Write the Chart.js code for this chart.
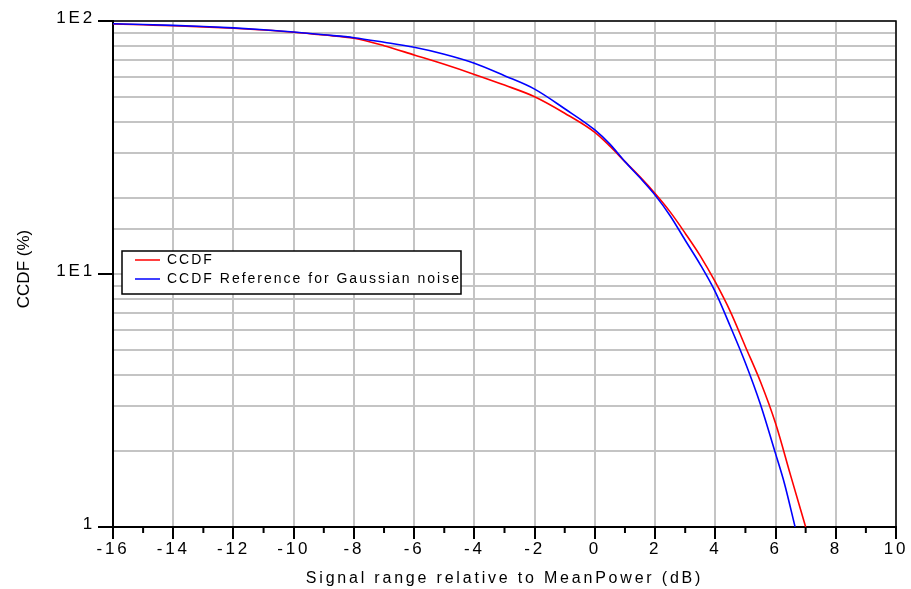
<!DOCTYPE html>
<html>
<head>
    <meta charset="utf-8">
    <title>CCDF</title>
    <script src="https://cdn.jsdelivr.net/npm/chart.js"></script>
    <style>
        body {
            margin: 0;
            background: #ffffff;
        }

        #wrap {
            width: 911px;
            height: 589px;
        }
    </style>
</head>
<body>
    <div id="wrap"><canvas id="ccdfChart" width="911" height="589"></canvas></div>

    <script>
        // Measured CCDF (red)
        const redX = [-16, -15, -14, -13, -12, -11, -10, -9, -8, -7, -6, -5, -4, -3, -2, -1, 0, 0.5, 1, 1.5, 2, 2.5, 3, 3.5, 4, 4.5, 5, 5.5, 6, 6.5, 7.0];
        const redY = [97.4, 96.6, 95.8, 94.8, 93.6, 92.1, 90.3, 88.0, 85.5, 79.9, 73.4, 67.4, 61.5, 55.8, 50.2, 43.2, 36.3, 32.0, 27.8, 24.2, 20.8, 17.6, 14.5, 11.8, 9.3, 7.1, 5.16, 3.75, 2.57, 1.6, 1.0];

        // Gaussian noise reference (blue)
        const blueX = [-16, -15, -14, -13, -12, -11, -10, -9, -8, -7, -6, -5, -4, -3, -2, -1, 0, 0.5, 1, 1.5, 2, 2.5, 3, 3.5, 4, 4.5, 5, 5.5, 6, 6.3, 6.65];
        const blueY = [97.5, 96.9, 96.1, 95.1, 93.9, 92.4, 90.5, 88.2, 85.9, 82.4, 78.7, 73.9, 68.1, 60.8, 53.8, 45.0, 37.1, 32.6, 27.8, 24.0, 20.5, 17.0, 13.6, 10.9, 8.5, 6.2, 4.45, 3.05, 1.95, 1.48, 1.0];

        const seriesNames = ['CCDF', 'CCDF Reference for Gaussian noise'];
        const seriesColors = ['#ff0000', '#0000ff'];

        // y tick labels only at the decades
        const yLabelValues = [1, 10, 100];
        const yLabelTexts = ['1', '1E1', '1E2'];

        const yTitle = 'CCDF (%)';

        const FONT = 'Liberation Sans, Arial, sans-serif';
        const GRID = '#c4c4c4';

        const spacingPlugin = {
            id: 'spacing',
            beforeLayout(chart) { chart.ctx.letterSpacing = '2.8px'; },
            beforeDraw(chart) { chart.ctx.letterSpacing = '2.8px'; }
        };

        const framePlugin = {
            id: 'frame',
            afterDraw(chart) {
                const ctx = chart.ctx;
                const a = chart.chartArea;
                const xs = chart.scales.x;
                ctx.save();

                // minor ticks on the x axis
                ctx.strokeStyle = '#000';
                ctx.lineWidth = 2;
                xs.ticks.forEach(t => {
                    if (t.value % 2 !== 0) {
                        const px = xs.getPixelForValue(t.value);
                        ctx.beginPath();
                        ctx.moveTo(px, a.bottom);
                        ctx.lineTo(px, a.bottom + 6);
                        ctx.stroke();
                    }
                });

                // top and right edges of the frame
                ctx.lineWidth = 1.5;
                ctx.beginPath();
                ctx.moveTo(a.left, a.top);
                ctx.lineTo(a.right, a.top);
                ctx.lineTo(a.right, a.bottom);
                ctx.stroke();

                // y axis title, tighter than the rest
                ctx.save();
                ctx.letterSpacing = '0px';
                ctx.font = '17px ' + FONT;
                ctx.fillStyle = '#000';
                ctx.textAlign = 'center';
                ctx.textBaseline = 'middle';
                ctx.translate(24, (a.top + a.bottom) / 2 - 5);
                ctx.rotate(-Math.PI / 2);
                ctx.fillText(yTitle, 0, 0);
                ctx.restore();

                // legend box inside the plot
                const bx = a.left + 9, by = a.top + 230, bw = 339, bh = 43;
                ctx.fillStyle = '#ffffff';
                ctx.fillRect(bx, by, bw, bh);
                ctx.strokeStyle = '#000';
                ctx.lineWidth = 1.5;
                ctx.strokeRect(bx, by, bw, bh);

                ctx.letterSpacing = '2px';
                ctx.font = '14px ' + FONT;
                ctx.textBaseline = 'middle';
                ctx.textAlign = 'left';
                chart.data.datasets.forEach((ds, i) => {
                    const ly = by + 9 + i * 19;
                    ctx.strokeStyle = ds.borderColor;
                    ctx.lineWidth = 1.5;
                    ctx.beginPath();
                    ctx.moveTo(bx + 13, ly);
                    ctx.lineTo(bx + 38, ly);
                    ctx.stroke();
                    ctx.fillStyle = '#000';
                    ctx.fillText(ds.label, bx + 45, ly);
                });

                ctx.restore();
            }
        };

        const ctx = document.getElementById('ccdfChart').getContext('2d');
        const chart = new Chart(ctx, {
            type: 'line',
            data: {
                datasets: [{
                    label: seriesNames[0],
                    borderColor: seriesColors[0],
                    data: redX.map((x, i) => ({ x: x, y: redY[i] })),
                    order: 1
                }, {
                    label: seriesNames[1],
                    borderColor: seriesColors[1],
                    data: blueX.map((x, i) => ({ x: x, y: blueY[i] })),
                    order: 0
                }]
            },
            options: {
                responsive: false,
                animation: false,
                layout: { padding: { top: 21, right: 15, left: 0, bottom: 0 } },
                elements: {
                    point: { radius: 0 },
                    line: { borderWidth: 1.6, cubicInterpolationMode: 'monotone', fill: false }
                },
                plugins: {
                    legend: { display: false },
                    tooltip: { enabled: false }
                },
                scales: {
                    x: {
                        type: 'linear',
                        min: -16,
                        max: 10,
                        ticks: {
                            stepSize: 1,
                            autoSkip: false,
                            maxRotation: 0,
                            padding: 0,
                            color: '#000',
                            font: { family: FONT, size: 17 },
                            callback: v => (v % 2 === 0 ? String(v) : '')
                        },
                        grid: {
                            color: c => (c.tick && c.tick.value % 2 === 0 ? GRID : 'rgba(0,0,0,0)'),
                            lineWidth: 2,
                            tickColor: c => (c.tick && c.tick.value % 2 === 0 ? '#000' : 'rgba(0,0,0,0)'),
                            tickLength: 12,
                            tickWidth: 2
                        },
                        border: { color: '#000', width: 2 },
                        title: {
                            display: true,
                            text: 'Signal range relative to MeanPower (dB)',
                            color: '#000',
                            font: { family: FONT, size: 16 },
                            padding: { top: 0, bottom: 1 }
                        },
                        afterFit: s => { s.height = 62; }
                    },
                    y: {
                        type: 'logarithmic',
                        min: 1,
                        max: 100,
                        ticks: {
                            autoSkip: false,
                            padding: 3,
                            labelOffset: -3,
                            color: '#000',
                            font: { family: FONT, size: 17 },
                            callback: v => {
                                const k = yLabelValues.indexOf(v);
                                return k >= 0 ? yLabelTexts[k] : '';
                            }
                        },
                        grid: {
                            color: GRID,
                            lineWidth: 2,
                            tickColor: c => (c.tick && yLabelValues.includes(c.tick.value) ? '#000' : 'rgba(0,0,0,0)'),
                            tickLength: 15,
                            tickWidth: 2
                        },
                        border: { color: '#000', width: 2 },
                        title: { display: false },
                        afterFit: s => { s.width = 113; }
                    }
                }
            },
            plugins: [spacingPlugin, framePlugin]
        });
    </script>
</body>
</html>
